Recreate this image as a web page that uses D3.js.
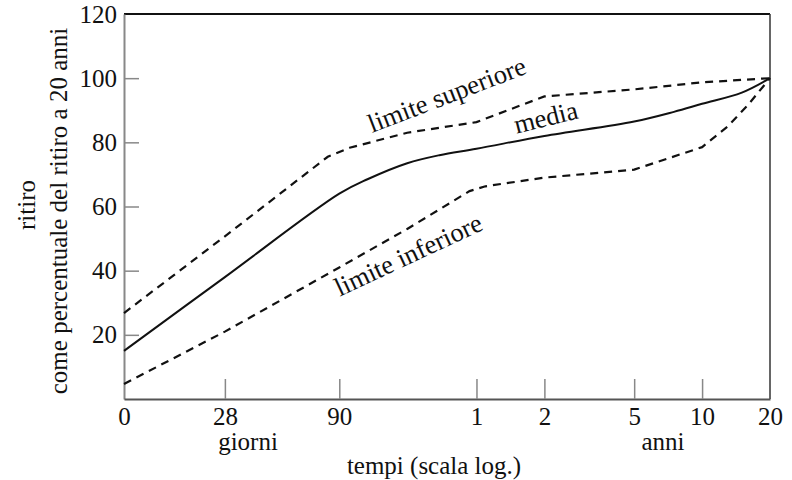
<!DOCTYPE html>
<html>
<head>
<meta charset="utf-8">
<script src="https://cdn.jsdelivr.net/npm/d3@7"></script>
<style>
  body { margin: 0; background: #fff; }
  svg { display: block; font-family: "Liberation Serif", "DejaVu Serif", serif; }
</style>
</head>
<body>
<svg width="792" height="480"></svg>
<script>
// time in days (0 is drawn at 10 days on the log axis)
var tickGiorni = [10, 28, 90, 365, 730, 1825, 3650, 7300];
var tickLabels = ['0', '28', '90', '1', '2', '5', '10', '20'];
var yTicks = [20, 40, 60, 80, 100, 120];

var mediaGiorni = [10, 28, 90, 120, 180, 250, 365, 730, 1825, 2738, 3650, 5475, 7300];
var mediaValori = [15, 38, 64, 68.5, 73.5, 76, 78, 82, 86.5, 89.5, 92, 95.5, 100];

var supGiorni = [10, 28, 80, 100, 180, 365, 548, 730, 1825, 3650, 7300];
var supValori = [26.8, 50.7, 75.5, 78.3, 83, 86.3, 91, 94.3, 96.5, 98.7, 100];

var infGiorni = [10, 28, 90, 180, 340, 400, 730, 1825, 3650, 4745, 5840, 7300];
var infValori = [4.7, 21, 41, 53, 64.8, 66.3, 69, 71.5, 78.5, 85, 91.7, 100];

function main() {
	var svg = d3.select('svg');

	var x = d3.scaleLog().domain([10, 7300]).range([124, 770]);
	var y = d3.scaleLinear().domain([0, 120]).range([399, 14]);

	// frame: top and right
	svg.append('line')
		.attr('x1', x(10)).attr('x2', x(7300))
		.attr('y1', y(120)).attr('y2', y(120))
		.attr('stroke', '#111').attr('stroke-width', 2);
	svg.append('line')
		.attr('x1', x(7300)).attr('x2', x(7300))
		.attr('y1', y(120)).attr('y2', y(0))
		.attr('stroke', '#333').attr('stroke-width', 1.5);

	var yAxis = d3.axisLeft(y)
		.tickValues(yTicks)
		.tickSizeInner(-15)
		.tickSizeOuter(0)
		.tickPadding(7)
		.tickFormat(d3.format('d'));
	var gy = svg.append('g')
		.attr('transform', 'translate(' + x(10) + ',0)')
		.call(yAxis);
	gy.select('.domain').attr('stroke', '#888').attr('stroke-width', 2);
	gy.selectAll('.tick line').attr('stroke', '#888').attr('stroke-width', 1.5);
	gy.selectAll('.tick').filter(function(d){ return d === 120; }).select('line').remove();
	gy.selectAll('.tick text').attr('font-size', 25).attr('fill', '#111')
		.attr('font-family', '"Liberation Serif", serif');

	var xAxis = d3.axisBottom(x)
		.tickValues(tickGiorni)
		.tickSizeInner(-20)
		.tickSizeOuter(0)
		.tickPadding(8)
		.tickFormat(function(d, i){ return tickLabels[i]; });
	var gx = svg.append('g')
		.attr('transform', 'translate(0,' + y(0) + ')')
		.call(xAxis);
	gx.select('.domain').attr('stroke', '#555').attr('stroke-width', 2);
	gx.selectAll('.tick line').attr('stroke', '#888').attr('stroke-width', 1.5);
	gx.selectAll('.tick').filter(function(d){ return d === 10 || d === 7300; }).select('line').remove();
	gx.selectAll('.tick text').attr('font-size', 25).attr('fill', '#111')
		.attr('font-family', '"Liberation Serif", serif');

	var lineaDritta = d3.line()
		.x(function(d){ return x(d[0]); })
		.y(function(d){ return y(d[1]); });
	var lineaMorbida = d3.line()
		.x(function(d){ return x(d[0]); })
		.y(function(d){ return y(d[1]); })
		.curve(d3.curveCatmullRom.alpha(0.5));

	function serie(giorni, valori) {
		return giorni.map(function(g, i){ return [g, valori[i]]; });
	}

	svg.append('path')
		.attr('d', lineaDritta(serie(supGiorni, supValori)))
		.attr('fill', 'none').attr('stroke', '#111')
		.attr('stroke-width', 2.2).attr('stroke-dasharray', '8,6');
	svg.append('path')
		.attr('d', lineaDritta(serie(infGiorni, infValori)))
		.attr('fill', 'none').attr('stroke', '#111')
		.attr('stroke-width', 2.2).attr('stroke-dasharray', '8,6');
	svg.append('path')
		.attr('d', lineaMorbida(serie(mediaGiorni, mediaValori)))
		.attr('fill', 'none').attr('stroke', '#111')
		.attr('stroke-width', 2);

	// curve labels
	var etichette = [
		{ t: 'limite superiore', x: 450, y: 103, a: -21 },
		{ t: 'media', x: 548, y: 126, a: -14 },
		{ t: 'limite inferiore', x: 412, y: 263, a: -25 }
	];
	svg.selectAll('.etichetta')
		.data(etichette)
		.enter().append('text')
		.attr('class', 'etichetta')
		.attr('transform', function(d){ return 'translate(' + d.x + ',' + d.y + ') rotate(' + d.a + ')'; })
		.attr('text-anchor', 'middle')
		.attr('font-size', 26.5)
		.attr('fill', '#111')
		.text(function(d){ return d.t; });

	// axis titles
	svg.append('text').attr('x', 248).attr('y', 450).attr('text-anchor', 'middle')
		.attr('font-size', 25).attr('fill', '#111').text('giorni');
	svg.append('text').attr('x', 663).attr('y', 450).attr('text-anchor', 'middle')
		.attr('font-size', 25).attr('fill', '#111').text('anni');
	svg.append('text').attr('x', 434).attr('y', 474).attr('text-anchor', 'middle')
		.attr('font-size', 25).attr('fill', '#111').text('tempi (scala log.)');

	svg.append('text').attr('transform', 'translate(35,205) rotate(-90)')
		.attr('text-anchor', 'middle').attr('font-size', 25).attr('fill', '#111').text('ritiro');
	svg.append('text').attr('transform', 'translate(67,211) rotate(-90)')
		.attr('text-anchor', 'middle').attr('font-size', 25).attr('fill', '#111')
		.text('come percentuale del ritiro a 20 anni');
}
main();
</script>
</body>
</html>
